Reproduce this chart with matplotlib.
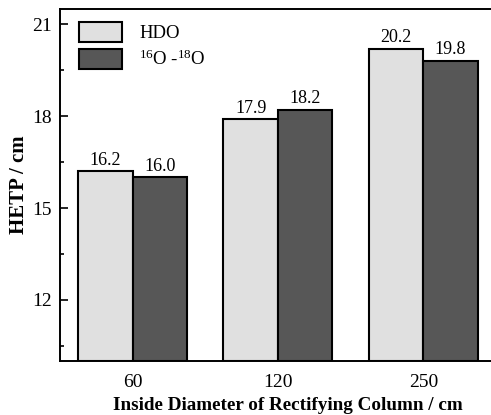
import numpy as np
import matplotlib
matplotlib.use("Agg")
import matplotlib.pyplot as plt
from matplotlib.ticker import MultipleLocator

plt.rcParams["font.family"] = ["Liberation Serif", "DejaVu Serif"]
plt.rcParams["mathtext.fontset"] = "custom"
plt.rcParams["mathtext.rm"] = "Liberation Serif"
plt.rcParams["mathtext.it"] = "Liberation Serif:italic"

# data
diameters = ["60", "120", "250"]
hdo = [16.2, 17.9, 20.2]
o16_o18 = [16.0, 18.2, 19.8]
series_labels = ["HDO", r"$^{16}$O -$^{18}$O"]

fig = plt.figure(figsize=(4.91, 4.15), dpi=100)
# right edge of the frame falls outside the picture, as in the reference
ax = fig.add_axes([0.1222, 0.130, 0.93, 0.848])

x = np.arange(len(diameters))
w = 0.375
base = 10
b1 = ax.bar(x - w / 2, np.array(hdo) - base, w, bottom=base, color="#e0e0e0",
            edgecolor="black", linewidth=1.5, label=series_labels[0])
b2 = ax.bar(x + w / 2, np.array(o16_o18) - base, w, bottom=base, color="#575757",
            edgecolor="black", linewidth=1.5, label=series_labels[1])

for bars, vals in ((b1, hdo), (b2, o16_o18)):
    ax.bar_label(bars, labels=[f"{v:.1f}" for v in vals], padding=2, fontsize=13)

# -0.5 sits on the left spine, 2.5 would sit ~5px past the right edge
ax.set_xlim(-0.5, -0.5 + 0.93 * 491 / 145.3)
ax.set_ylim(10, 21.5)
ax.set_xticks(x)
ax.set_xticklabels(diameters)
ax.yaxis.set_major_locator(MultipleLocator(3))
ax.yaxis.set_minor_locator(MultipleLocator(1.5))
ax.tick_params(axis="y", which="major", direction="in", length=6, width=1.2, labelsize=14, pad=6)
ax.tick_params(axis="y", which="minor", direction="in", length=3, width=1.2)
ax.tick_params(axis="x", length=0, labelsize=14, pad=9)

for s in ax.spines.values():
    s.set_linewidth(1.4)
ax.spines["right"].set_visible(False)

ax.set_xlabel("Inside Diameter of Rectifying Column / cm", fontsize=13.8, fontweight="bold", labelpad=5)
ax.set_ylabel("HETP / cm", fontsize=15, fontweight="bold", labelpad=2)

ax.legend(loc="upper left", bbox_to_anchor=(0.013, 1.0), frameon=False, fontsize=13.5,
          handlelength=2.3, handleheight=1.25, handletextpad=0.9, labelspacing=0.35,
          borderaxespad=0.3)

fig.savefig("out.png", dpi=100)
